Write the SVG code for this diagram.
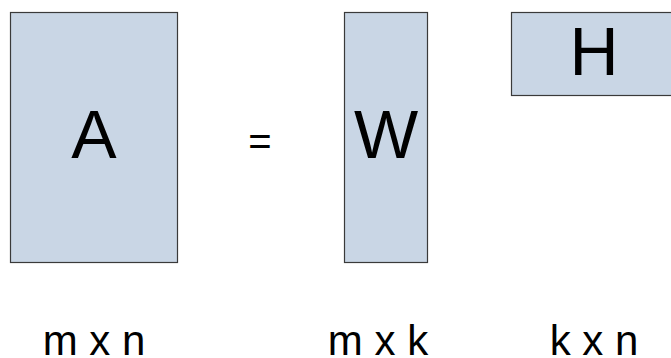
<svg xmlns="http://www.w3.org/2000/svg" width="671" height="358" viewBox="0 0 671 358">
<style>
.box{fill:#c9d6e5;stroke:#3a3a3a;stroke-width:1.2}
.big{font-family:"Liberation Sans",Arial,sans-serif;font-size:68px;fill:#000;text-anchor:middle}
.dim{font-family:"Liberation Sans",Arial,sans-serif;font-size:42px;fill:#000;text-anchor:middle}
.eq{font-family:"Liberation Sans",Arial,sans-serif;font-size:40px;fill:#000;text-anchor:middle}
</style>
<rect width="671" height="358" fill="#ffffff"/>
<g id="A">
<rect class="box" x="10.5" y="12.5" width="167" height="250"/>
<text class="big" x="94" y="158">A</text>
</g>
<g id="eq">
<text class="eq" x="260" y="155">=</text>
</g>
<g id="W">
<rect class="box" x="344.5" y="12.5" width="83" height="250"/>
<text class="big" x="386" y="158">W</text>
</g>
<g id="H">
<rect class="box" x="511.5" y="12.5" width="170" height="83"/>
<text class="big" x="594" y="75">H</text>
</g>
<g id="labels">
<text class="dim" x="94" y="355">m x n</text>
<text class="dim" x="378" y="355">m x k</text>
<text class="dim" x="594" y="355">k x n</text>
</g>
<g id="connectors"/>
</svg>
